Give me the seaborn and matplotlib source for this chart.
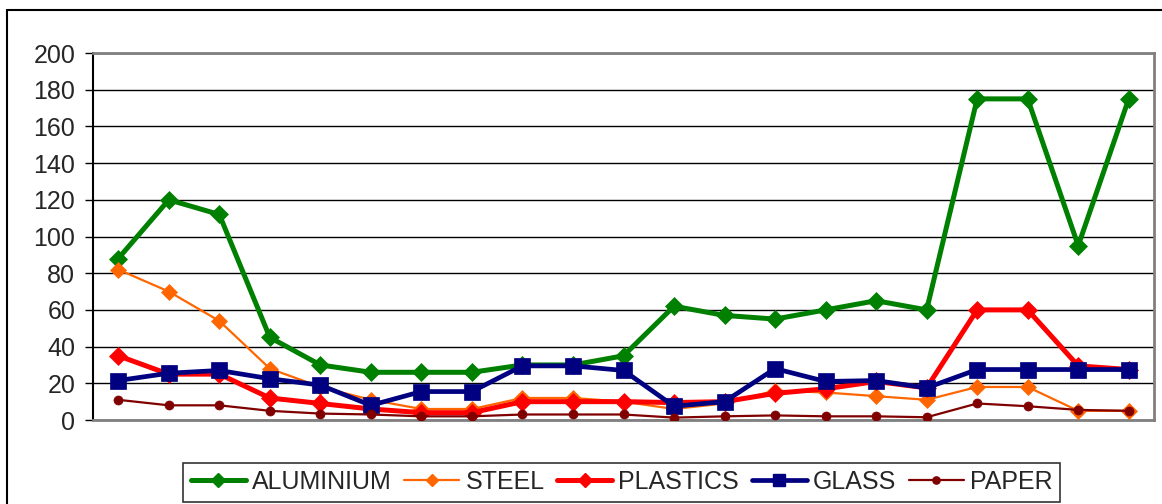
import matplotlib
matplotlib.use("Agg")
import matplotlib.pyplot as plt
from matplotlib.lines import Line2D
import numpy as np
import pandas as pd
import seaborn as sns

# Series values, one per sampling point (21 points, unlabeled on the x axis)
aluminium = [88, 120, 112, 45, 30, 26, 26, 26, 30, 30, 35, 62, 57, 55, 60, 65, 60, 175, 175, 95, 175]
steel = [82, 70, 54, 28, 18, 11, 6, 6, 12, 12, 10, 6, 9, 16, 15, 13, 11, 18, 18, 5, 5]
plastics = [35, 25, 25, 12, 9, 6, 4, 4, 10, 10, 10, 9.5, 10, 14.5, 17, 21, 17.5, 60, 60, 29.5, 27.5]
glass = [21.5, 25.5, 27, 22.5, 19, 8, 15.5, 15.5, 29.5, 29.5, 27, 7.5, 10, 28, 21, 21.5, 17.5, 27.5, 27.5, 27.5, 27.5]
paper = [11, 8, 8, 5, 3.5, 3, 2, 2, 3, 3, 3, 1.3, 2, 2.5, 2, 2, 1.5, 9, 7.5, 5.5, 5]

series_names = ["ALUMINIUM", "STEEL", "PLASTICS", "GLASS", "PAPER"]
series_values = [aluminium, steel, plastics, glass, paper]
y_ticks = [0, 20, 40, 60, 80, 100, 120, 140, 160, 180, 200]

styles = {
    "ALUMINIUM": dict(color="#008000", lw=3.6, marker="D", ms=9.5),
    "STEEL": dict(color="#FF6600", lw=1.6, marker="D", ms=8),
    "PLASTICS": dict(color="#FF0000", lw=3.6, marker="D", ms=9),
    "GLASS": dict(color="#000080", lw=3.4, marker="s", ms=11),
    "PAPER": dict(color="#800000", lw=1.6, marker="o", ms=6.5),
}

sns.set_style("white")
plt.rcParams["font.family"] = ["Liberation Sans", "DejaVu Sans"]

fig = plt.figure(figsize=(11.62, 5.04), dpi=100)
ax = fig.add_axes([93 / 1162, 1 - 420 / 504, (1154 - 93) / 1162, (420 - 53) / 504])

frames = []
for name, vals in zip(series_names, series_values):
    frames.append(pd.DataFrame({"point": np.arange(len(vals)), "value": vals, "material": name}))
df = pd.concat(frames, ignore_index=True)

handles = []
for i, name in enumerate(series_names):
    st = styles[name]
    sub = df[df["material"] == name]
    sns.lineplot(data=sub, x="point", y="value", ax=ax, color=st["color"], lw=st["lw"],
                 marker=st["marker"], markersize=st["ms"], markeredgecolor=st["color"],
                 markeredgewidth=0.5, zorder=3 + i, legend=False)
    handles.append(Line2D([], [], color=st["color"], lw=st["lw"], marker=st["marker"],
                          markersize=st["ms"] * 0.8, markeredgecolor=st["color"]))

ax.set_xlim(-0.5, len(aluminium) - 0.5)
ax.set_ylim(0, 200)
ax.set_yticks(y_ticks)
ax.set_yticklabels([str(t) for t in y_ticks], fontsize=18)
ax.set_xticks([])
ax.set_xlabel("")
ax.set_ylabel("")
ax.grid(axis="y", color="black", lw=1.0, zorder=0)
ax.set_axisbelow(True)
ax.tick_params(axis="y", direction="out", length=5.8, width=1, color="black", pad=7, left=True)

for side in ["top", "right", "bottom"]:
    ax.spines[side].set_color("#808080")
    ax.spines[side].set_linewidth(2)
ax.spines["left"].set_color("black")
ax.spines["left"].set_linewidth(1.5)

leg = fig.legend(handles, series_names, loc="center", bbox_to_anchor=(0.535, 1 - 482 / 504),
                 ncol=5, fontsize=18, frameon=True, fancybox=False, edgecolor="black",
                 handlelength=2.2, columnspacing=0.5, handletextpad=0.25, borderpad=0.3,
                 borderaxespad=0)
leg.get_frame().set_linewidth(1.2)

# Outer chart border (top and left edges visible within the image)
fig.add_artist(Line2D([7 / 1162, 7 / 1162], [0, 1 - 10 / 504], transform=fig.transFigure,
                      color="black", lw=1.5))
fig.add_artist(Line2D([7 / 1162, 1], [1 - 10 / 504, 1 - 10 / 504], transform=fig.transFigure,
                      color="black", lw=1.5))

fig.savefig("out.png", dpi=100)
